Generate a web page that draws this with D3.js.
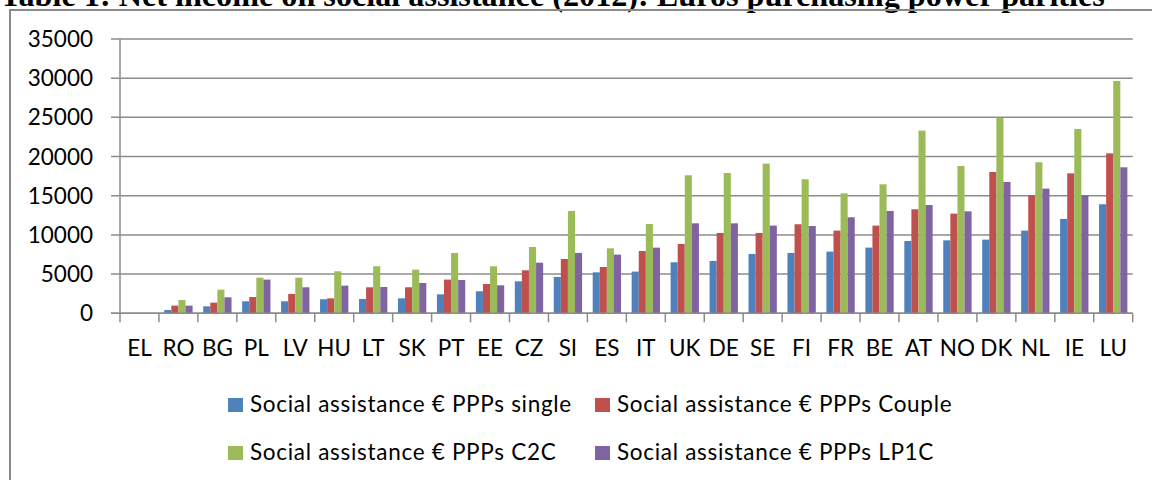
<!DOCTYPE html>
<html>
<head>
<meta charset="utf-8">
<script src="https://cdn.jsdelivr.net/npm/d3@7"></script>
<style>
  body { margin: 0; background: #fff; }
  svg { display: block; }
  .lbl { font-family: Lato, "Open Sans", sans-serif; font-size: 22.5px; fill: #000; }
  .leg { letter-spacing: 0.7px; }
</style>
</head>
<body>
<div id="chart"></div>
<script>
// Country codes, ordered as in the table
var countries = ["EL","RO","BG","PL","LV","HU","LT","SK","PT","EE","CZ","SI","ES","IT","UK","DE","SE","FI","FR","BE","AT","NO","DK","NL","IE","LU"];

// Net income on social assistance, euros PPP
var single = [0, 420, 890, 1530, 1530, 1790, 1830, 1910, 2420, 2810, 4080, 4640, 5230, 5320, 6510, 6680, 7570, 7700, 7870, 8380, 9230, 9310, 9400, 10550, 12040, 13910];
var couple = [0, 980, 1360, 2080, 2470, 1910, 3320, 3320, 4300, 3740, 5490, 6930, 5910, 7950, 8850, 10250, 10250, 11360, 10550, 11190, 13270, 12720, 18030, 15060, 17860, 20410];
var c2c    = [0, 1700, 3020, 4550, 4550, 5360, 6000, 5570, 7700, 6000, 8460, 13060, 8290, 11400, 17610, 17900, 19100, 17100, 15310, 16460, 23310, 18800, 24960, 19270, 23520, 29640];
var lp1c   = [0, 980, 2040, 4300, 3320, 3530, 3360, 3870, 4250, 3570, 6460, 7700, 7490, 8380, 11480, 11480, 11190, 11140, 12250, 13060, 13820, 13010, 16760, 15910, 15060, 18630];

var seriesNames = ["Social assistance \u20ac PPPs single", "Social assistance \u20ac PPPs Couple",
                   "Social assistance \u20ac PPPs C2C", "Social assistance \u20ac PPPs LP1C"];
var seriesColors = ["#4f81bd", "#c0504d", "#9bbb59", "#8064a2"];
var yTicks = [0, 5000, 10000, 15000, 20000, 25000, 30000, 35000];

var W = 1152, H = 480;
var plot = {left: 120, right: 1132.7, top: 39, bottom: 313.3};

var svg = d3.select("#chart").append("svg")
	.attr("width", W).attr("height", H);

//Title, cut off by the top of the picture as in the source
var title = svg.append("text")
	.attr("x", 0).attr("y", 6)
	.style("font-family", "'Liberation Serif', 'Times New Roman', serif")
	.style("font-weight", "bold")
	.style("font-size", "26px")
	.text("Table 1: Net income on social assistance (2012): Euros purchasing power parities");
var tw = title.node().getComputedTextLength();
title.style("font-size", (26 * 1105 / tw) + "px");

//Chart area frame (runs off right and bottom)
svg.append("rect")
	.attr("x", 10).attr("y", 10)
	.attr("width", W + 20).attr("height", H + 20)
	.attr("fill", "none").attr("stroke", "#8a8a8a").attr("stroke-width", 2);

//Scales
var y = d3.scaleLinear().domain([0, 35000]).range([plot.bottom, plot.top]);
var x = d3.scaleBand().domain(countries).range([plot.left, plot.right]).paddingInner(0).paddingOuter(0);
var gap = 1.5; // excel style gap width 150%
var barW = x.bandwidth() / (seriesNames.length + gap);
var xs = d3.scaleBand().domain(d3.range(seriesNames.length))
	.range([barW * gap / 2, x.bandwidth() - barW * gap / 2]);

//Gridlines and y tick marks
svg.append("g").selectAll("line").data(yTicks).enter().append("line")
	.attr("x1", plot.left - 9).attr("x2", plot.right)
	.attr("y1", function(d) { return y(d); }).attr("y2", function(d) { return y(d); })
	.attr("stroke", "#8c8c8c").attr("stroke-width", 1.5);

//Y labels
svg.append("g").selectAll("text").data(yTicks).enter().append("text")
	.attr("class", "lbl")
	.attr("x", 93).attr("y", function(d) { return y(d) + 8; })
	.attr("text-anchor", "end")
	.text(function(d) { return d; });

//Bars
var series = [single, couple, c2c, lp1c];
series.forEach(function(vals, s) {
	svg.append("g").selectAll("rect").data(vals).enter().append("rect")
		.attr("x", function(d, i) { return x(countries[i]) + xs(s); })
		.attr("width", xs.bandwidth())
		.attr("y", function(d) { return y(d); })
		.attr("height", function(d) { return y(0) - y(d); })
		.attr("fill", seriesColors[s]);
});

//Axes lines
svg.append("line")
	.attr("x1", plot.left).attr("x2", plot.left)
	.attr("y1", plot.top).attr("y2", plot.bottom)
	.attr("stroke", "#8c8c8c").attr("stroke-width", 1.5);
svg.append("line")
	.attr("x1", plot.left - 9).attr("x2", plot.right)
	.attr("y1", plot.bottom).attr("y2", plot.bottom)
	.attr("stroke", "#8c8c8c").attr("stroke-width", 1.5);

//X tick marks at category boundaries
var bounds = countries.map(function(c) { return x(c); }).concat([plot.right]);
svg.append("g").selectAll("line").data(bounds).enter().append("line")
	.attr("x1", function(d) { return d; }).attr("x2", function(d) { return d; })
	.attr("y1", plot.bottom).attr("y2", plot.bottom + 9)
	.attr("stroke", "#8c8c8c").attr("stroke-width", 1.5);

//X labels
svg.append("g").selectAll("text").data(countries).enter().append("text")
	.attr("class", "lbl")
	.attr("x", function(d) { return x(d) + x.bandwidth() / 2; })
	.attr("y", 356)
	.attr("text-anchor", "middle")
	.text(function(d) { return d; });

//Legend, two rows of two
var legPos = [[228, 398], [595, 398], [228, 446], [595, 446]];
var leg = svg.append("g").selectAll("g").data(seriesNames).enter().append("g")
	.attr("transform", function(d, i) { return "translate(" + legPos[i][0] + "," + legPos[i][1] + ")"; });
leg.append("rect")
	.attr("width", 15).attr("height", 14)
	.attr("fill", function(d, i) { return seriesColors[i]; });
leg.append("text")
	.attr("class", "lbl leg")
	.attr("x", 22).attr("y", 13.5)
	.text(function(d) { return d; });
</script>
</body>
</html>
